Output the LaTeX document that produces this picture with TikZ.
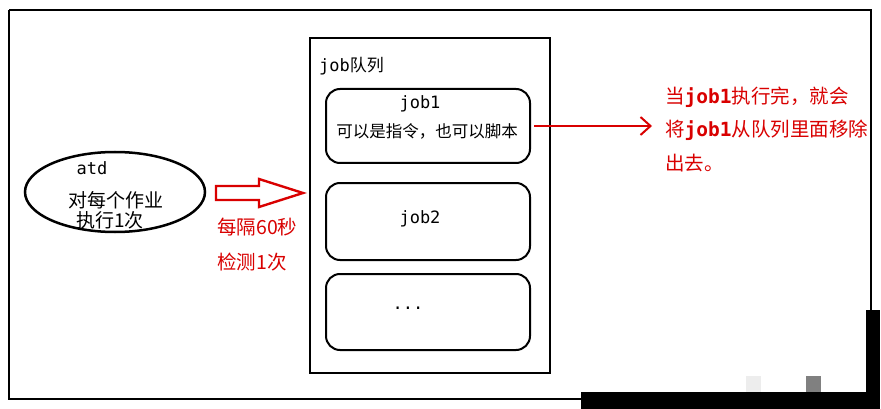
\documentclass[tikz,border=0pt]{standalone}
\usepackage{fontspec}
\setmainfont{Noto Sans CJK SC}
\newfontfamily\monof{DejaVu Sans Mono}
\usetikzlibrary{shapes.geometric,shapes.arrows,arrows.meta}
\begin{document}
\begin{tikzpicture}[x=1pt,y=-1pt,
  jobbox/.style={draw,line width=2pt,rounded corners=14pt},
  redt/.style={text=red!85!black,font=\fontsize{19.5}{22}\selectfont,anchor=west,inner sep=0},
  blk/.style={font=\fontsize{17}{19}\selectfont,inner sep=0}]
\useasboundingbox (0,0) rectangle (881,409);
\fill[white] (0,0) rectangle (881,409);
\draw[line width=2.5pt] (9,10) -- (871,10) -- (871,310);
\draw[line width=2.5pt] (9,10) -- (9,399) -- (582,399);
\fill[black] (581,392) rectangle (866,409);
\fill[black] (866,310) rectangle (880,409);
\fill[black!7] (746,376) rectangle (761,392);
\fill[black!50] (806,376) rectangle (821,392);
\node[draw,line width=2pt,minimum width=240,minimum height=335,inner sep=0] (queue) at (429.5,205.5) {};
\node[blk,anchor=west] (qt) at (319,66) {{\monof job}队列};
\node[jobbox,minimum width=204,minimum height=74] (j1) at (428,126) {};
\node[blk] (j1a) at (420,104) {\monof job1};
\node[blk,font=\fontsize{16.5}{18}\selectfont] (j1b) at (427,131) {可以是指令，也可以脚本};
\node[jobbox,minimum width=204,minimum height=77] (j2) at (428,221.5) {};
\node[blk] (j2a) at (420,219) {\monof job2};
\node[jobbox,minimum width=204,minimum height=76] (j3) at (428,312) {};
\node[blk] (j3a) at (408,308) {\monof ...};
\node[draw,ellipse,line width=2.5pt,minimum width=180,minimum height=80] (atd) at (115,192) {};
\node[blk] (atdt) at (92,168) {\monof atd};
\node[blk,font=\fontsize{19}{21}\selectfont] (a1) at (116,200) {对每个作业};
\node[blk,font=\fontsize{19}{21}\selectfont] (a2) at (110,220) {执行1次};
\coordinate (hs) at (216,193);
\draw[red!85!black,line width=2.4pt,line join=miter] (hs) ++(0,-7) -- ++(43,0) -- ++(0,-7) -- ++(44,14) -- ++(-44,14) -- ++(0,-7) -- ++(-43,0) -- cycle;
\node[redt] (r1) at (217,227) {每隔60秒};
\node[redt] (r2) at (217,262) {检测1次};
\coordinate (ae) at (652,126);
\draw[red!85!black,line width=2pt,-{Straight Barb[length=10pt,width=18pt]}] (j1.east) ++(3,0) coordinate (as) -- (ae);
\node[redt] (t1) at (665,97) {当{\monof\bfseries job1}执行完，就会};
\node[redt] (t2) at (665,130) {将{\monof\bfseries job1}从队列里面移除};
\node[redt] (t3) at (665,163) {出去。};
\end{tikzpicture}
\end{document}
